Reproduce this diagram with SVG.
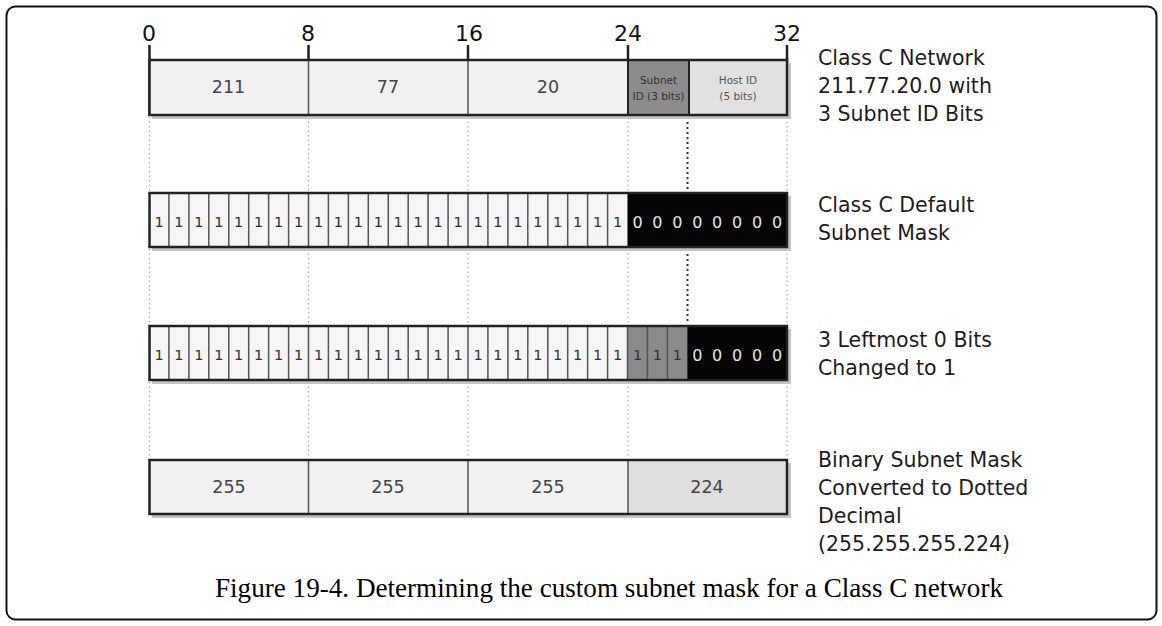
<svg xmlns="http://www.w3.org/2000/svg" width="1162" height="626" viewBox="0 0 1162 626">
<style>
.lbl{font-family:"DejaVu Sans",sans-serif;font-size:20.5px;fill:#1c1c1c}
.num{font-family:"DejaVu Sans",sans-serif;font-size:22px;fill:#111;text-anchor:middle}
.cell{font-family:"DejaVu Sans",sans-serif;font-size:17.5px;fill:#444;text-anchor:middle}
.small{font-family:"DejaVu Sans",sans-serif;font-size:10.5px;text-anchor:middle}
.b1{font-family:"DejaVu Sans",sans-serif;font-size:14.5px;fill:#333;text-anchor:middle}
.b0{font-family:"DejaVu Sans",sans-serif;font-size:16px;fill:#e6e6e6;text-anchor:middle}
.cap{font-family:"Liberation Serif","Times New Roman",serif;font-size:27px;fill:#000}
.shadow{fill:#c4c4c4}
.box{stroke:#222;stroke-width:2.5;fill:none}
.sep{stroke:#555;stroke-width:1.5;fill:none}
.dot{stroke:#aaa;stroke-width:1.2;stroke-dasharray:1.5 3;fill:none}
.ddot{stroke:#333;stroke-width:2;stroke-dasharray:2 3;fill:none}
</style>
<rect x="6.5" y="6.5" width="1150" height="613" rx="9" fill="#fff" stroke="#111" stroke-width="2"/>

<g id="connectors">
<path class="dot" d="M149.5 117V191M308.5 117V191M468 117V191M628 117V191M787 117V191M149.5 249V324M308.5 249V324M468 249V324M628 249V324M787 249V324M149.5 382V458M308.5 382V458M468 382V458M628 382V458M787 382V458"/>
<path class="ddot" d="M687.5 117V191M687.5 249V324"/>
</g>

<g id="ruler">
<text class="num" x="149" y="41">0</text>
<text class="num" x="308" y="41">8</text>
<text class="num" x="469" y="41">16</text>
<text class="num" x="628" y="41">24</text>
<text class="num" x="787" y="41">32</text>
<path d="M149.5 45V115M308.5 45V60M468 45V60M628 45V60M787 45V115" stroke="#222" stroke-width="2.5" fill="none"/>
</g>

<g id="row-network">
<rect class="shadow" x="152" y="63" width="639" height="56"/>
<rect x="149.5" y="60" width="478.5" height="55" fill="#f1f1f1"/>
<rect x="628" y="60" width="61" height="55" fill="#8c8c8c"/>
<rect x="689" y="60" width="98" height="55" fill="#e1e1e1"/>
<path class="sep" d="M308.5 60V115M468 60V115"/>
<path d="M628 60V115M689 60V115" stroke="#222" stroke-width="2" fill="none"/>
<rect class="box" x="149.5" y="60" width="637.5" height="55"/>
<text class="cell" x="228.5" y="93">211</text>
<text class="cell" x="388" y="93">77</text>
<text class="cell" x="548" y="93">20</text>
<text class="small" x="658.5" y="84" fill="#333">Subnet</text>
<text class="small" x="658.5" y="100" fill="#333">ID (3 bits)</text>
<text class="small" x="738" y="84" fill="#555" font-size="12">Host ID</text>
<text class="small" x="738" y="100" fill="#555" font-size="12">(5 bits)</text>
</g>

<g id="row-default-mask">
<rect class="shadow" x="152" y="196" width="639" height="55"/>
<rect x="149.5" y="193" width="478" height="54" fill="#f5f5f5"/>
<rect x="627.5" y="193" width="159.5" height="54" fill="#050505"/>
<path class="sep" d="M168.9 193V247M188.9 193V247M208.8 193V247M228.8 193V247M248.7 193V247M268.6 193V247M288.6 193V247M308.5 193V247M328.4 193V247M348.4 193V247M368.3 193V247M388.3 193V247M408.2 193V247M428.1 193V247M448.1 193V247M468 193V247M487.9 193V247M507.9 193V247M527.8 193V247M547.8 193V247M567.7 193V247M587.6 193V247M607.6 193V247"/>
<rect class="box" x="149.5" y="193" width="637.5" height="54"/>
<text class="b1" x="159" y="227">1</text><text class="b1" x="178.9" y="227">1</text><text class="b1" x="198.8" y="227">1</text><text class="b1" x="218.8" y="227">1</text><text class="b1" x="238.7" y="227">1</text><text class="b1" x="258.7" y="227">1</text><text class="b1" x="278.6" y="227">1</text><text class="b1" x="298.5" y="227">1</text>
<text class="b1" x="318.5" y="227">1</text><text class="b1" x="338.4" y="227">1</text><text class="b1" x="358.3" y="227">1</text><text class="b1" x="378.3" y="227">1</text><text class="b1" x="398.2" y="227">1</text><text class="b1" x="418.2" y="227">1</text><text class="b1" x="438.1" y="227">1</text><text class="b1" x="458" y="227">1</text>
<text class="b1" x="478" y="227">1</text><text class="b1" x="497.9" y="227">1</text><text class="b1" x="517.8" y="227">1</text><text class="b1" x="537.8" y="227">1</text><text class="b1" x="557.7" y="227">1</text><text class="b1" x="577.7" y="227">1</text><text class="b1" x="597.6" y="227">1</text><text class="b1" x="617.5" y="227">1</text>
<text class="b0" x="637.5" y="228">0</text><text class="b0" x="657.4" y="228">0</text><text class="b0" x="677.3" y="228">0</text><text class="b0" x="697.3" y="228">0</text><text class="b0" x="717.2" y="228">0</text><text class="b0" x="737.2" y="228">0</text><text class="b0" x="757.1" y="228">0</text><text class="b0" x="777" y="228">0</text>
</g>

<g id="row-custom-mask">
<rect class="shadow" x="152" y="329" width="639" height="55"/>
<rect x="149.5" y="326" width="478" height="54" fill="#f5f5f5"/>
<rect x="627.5" y="326" width="60" height="54" fill="#8a8a8a"/>
<rect x="687.3" y="326" width="99.7" height="54" fill="#050505"/>
<path class="sep" d="M168.9 326V380M188.9 326V380M208.8 326V380M228.8 326V380M248.7 326V380M268.6 326V380M288.6 326V380M308.5 326V380M328.4 326V380M348.4 326V380M368.3 326V380M388.3 326V380M408.2 326V380M428.1 326V380M448.1 326V380M468 326V380M487.9 326V380M507.9 326V380M527.8 326V380M547.8 326V380M567.7 326V380M587.6 326V380M607.6 326V380M627.5 326V380M647.4 326V380M667.4 326V380"/>
<rect class="box" x="149.5" y="326" width="637.5" height="54"/>
<text class="b1" x="159" y="360">1</text><text class="b1" x="178.9" y="360">1</text><text class="b1" x="198.8" y="360">1</text><text class="b1" x="218.8" y="360">1</text><text class="b1" x="238.7" y="360">1</text><text class="b1" x="258.7" y="360">1</text><text class="b1" x="278.6" y="360">1</text><text class="b1" x="298.5" y="360">1</text>
<text class="b1" x="318.5" y="360">1</text><text class="b1" x="338.4" y="360">1</text><text class="b1" x="358.3" y="360">1</text><text class="b1" x="378.3" y="360">1</text><text class="b1" x="398.2" y="360">1</text><text class="b1" x="418.2" y="360">1</text><text class="b1" x="438.1" y="360">1</text><text class="b1" x="458" y="360">1</text>
<text class="b1" x="478" y="360">1</text><text class="b1" x="497.9" y="360">1</text><text class="b1" x="517.8" y="360">1</text><text class="b1" x="537.8" y="360">1</text><text class="b1" x="557.7" y="360">1</text><text class="b1" x="577.7" y="360">1</text><text class="b1" x="597.6" y="360">1</text><text class="b1" x="617.5" y="360">1</text>
<text class="b1" x="637.5" y="360" fill="#111">1</text><text class="b1" x="657.4" y="360" fill="#111">1</text><text class="b1" x="677.3" y="360" fill="#111">1</text>
<text class="b0" x="697.3" y="361">0</text><text class="b0" x="717.2" y="361">0</text><text class="b0" x="737.2" y="361">0</text><text class="b0" x="757.1" y="361">0</text><text class="b0" x="777" y="361">0</text>
</g>

<g id="row-decimal">
<rect class="shadow" x="152" y="463" width="639" height="55"/>
<rect x="149.5" y="460" width="478" height="54" fill="#f1f1f1"/>
<rect x="627.5" y="460" width="159.5" height="54" fill="#dedede"/>
<path class="sep" d="M308.5 460V514M468 460V514M628 460V514"/>
<rect class="box" x="149.5" y="460" width="637.5" height="54"/>
<text class="cell" x="229" y="493">255</text>
<text class="cell" x="388" y="493">255</text>
<text class="cell" x="548" y="493">255</text>
<text class="cell" x="707" y="493">224</text>
</g>

<g id="labels">
<text class="lbl" x="818" y="65">Class C Network</text>
<text class="lbl" x="818" y="93">211.77.20.0 with</text>
<text class="lbl" x="818" y="121">3 Subnet ID Bits</text>
<text class="lbl" x="818" y="212">Class C Default</text>
<text class="lbl" x="818" y="240">Subnet Mask</text>
<text class="lbl" x="818" y="347">3 Leftmost 0 Bits</text>
<text class="lbl" x="818" y="375">Changed to 1</text>
<text class="lbl" x="818" y="467">Binary Subnet Mask</text>
<text class="lbl" x="818" y="495">Converted to Dotted</text>
<text class="lbl" x="818" y="523">Decimal</text>
<text class="lbl" x="818" y="551">(255.255.255.224)</text>
</g>

<text id="caption" class="cap" x="215" y="597" textLength="788" lengthAdjust="spacingAndGlyphs">Figure 19-4. Determining the custom subnet mask for a Class C network</text>
</svg>
